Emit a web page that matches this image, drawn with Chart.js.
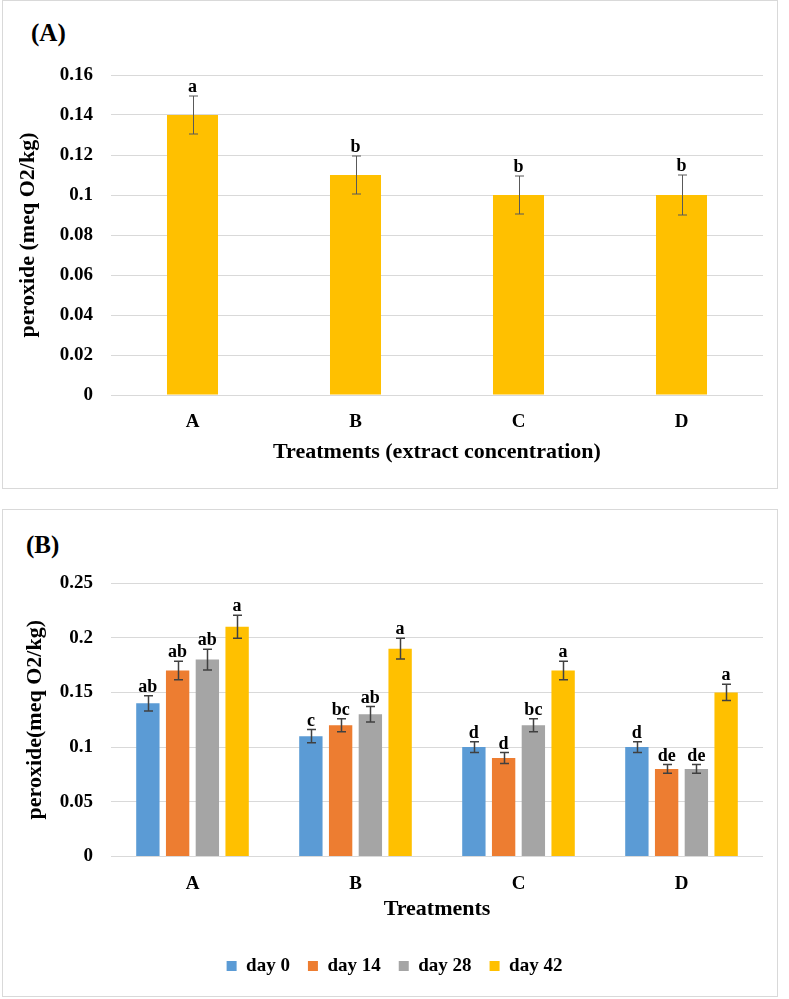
<!DOCTYPE html>
<html lang="en">
<head>
<meta charset="utf-8">
<title>Peroxide value</title>
<script src="https://cdn.jsdelivr.net/npm/chart.js@4"></script>
<style>
    html, body { margin: 0; padding: 0; background: #fff; }
    body { width: 789px; height: 999px; position: relative; overflow: hidden; font-family: "Liberation Serif", "Times New Roman", serif; }
    .panel { position: absolute; left: 2px; width: 776px; border: 1.5px solid #d9d9d9; box-sizing: border-box; }
    #panelA { top: 0; height: 489px; }
    #panelB { top: 509px; height: 488px; }
    .tag { position: absolute; font-weight: bold; font-size: 25px; line-height: 25px; color: #000; }
    canvas { position: absolute; left: 0; }
</style>
</head>
<body>
<div class="panel" id="panelA"></div>
<div class="panel" id="panelB"></div>
<div class="tag" style="left:31px; top:20px;">(A)</div>
<div class="tag" style="left:26px; top:532px;">(B)</div>
<canvas id="chartA" width="789" height="489" style="top:0"></canvas>
<canvas id="chartB" width="789" height="499" style="top:500px"></canvas>

<script>
    const categories = ['A', 'B', 'C', 'D'];

    // panel A - treatments
    const peroxideA = [0.14, 0.11, 0.10, 0.10];
    const errorA = [0.0095, 0.0095, 0.0095, 0.0100];
    const lettersA = ['a', 'b', 'b', 'b'];
    const ticksA = [0, 0.02, 0.04, 0.06, 0.08, 0.1, 0.12, 0.14, 0.16];

    // panel B - storage days
    const dayLabels = ['day 0', 'day 14', 'day 28', 'day 42'];
    const day0 = [0.14, 0.11, 0.10, 0.10];
    const day14 = [0.17, 0.12, 0.09, 0.08];
    const day28 = [0.18, 0.13, 0.12, 0.08];
    const day42 = [0.21, 0.19, 0.17, 0.15];
    const err0 = [0.007, 0.006, 0.005, 0.005];
    const err14 = [0.0085, 0.006, 0.005, 0.004];
    const err28 = [0.0095, 0.007, 0.006, 0.004];
    const err42 = [0.0105, 0.0095, 0.0085, 0.0075];
    const letters0 = ['ab', 'c', 'd', 'd'];
    const letters14 = ['ab', 'bc', 'd', 'de'];
    const letters28 = ['ab', 'ab', 'bc', 'de'];
    const letters42 = ['a', 'a', 'a', 'a'];
    const ticksB = [0, 0.05, 0.1, 0.15, 0.2, 0.25];

    const dayColors = ['#5B9BD5', '#ED7D31', '#A5A5A5', '#FFC000'];
    const serif = '"Liberation Serif", "Times New Roman", serif';

    Chart.defaults.font.family = serif;
    Chart.defaults.font.weight = 'bold';
    Chart.defaults.color = '#000';

    // error bars + significance letters, positioned through the y scale
    const errorBars = {
        id: 'errorBars',
        afterDatasetsDraw(chart, args, opts) {
            const { ctx } = chart;
            const y = chart.scales.y;
            chart.data.datasets.forEach((ds, i) => {
                const meta = chart.getDatasetMeta(i);
                meta.data.forEach((bar, j) => {
                    const v = ds.data[j], e = ds.errors[j];
                    const top = y.getPixelForValue(v + e);
                    const bot = y.getPixelForValue(v - e);
                    const x = Math.round(bar.x) + 0.5;
                    ctx.save();
                    ctx.strokeStyle = opts.color;
                    ctx.lineWidth = opts.width;
                    ctx.beginPath();
                    ctx.moveTo(x, top); ctx.lineTo(x, bot);
                    ctx.moveTo(x - opts.cap, top); ctx.lineTo(x + opts.cap, top);
                    ctx.moveTo(x - opts.cap, bot); ctx.lineTo(x + opts.cap, bot);
                    ctx.stroke();
                    ctx.fillStyle = '#000';
                    ctx.font = 'bold 18px ' + serif;
                    ctx.textAlign = 'center';
                    ctx.textBaseline = 'alphabetic';
                    ctx.fillText(ds.letters[j], bar.x, top - 4);
                    ctx.restore();
                });
            });
        }
    };

    function yAxis(ticks, max, title, width, titleOpts) {
        return {
            min: 0,
            max: max,
            afterBuildTicks: s => { s.ticks = ticks.map(v => ({ value: v })); },
            afterFit: s => { s.width = width; },
            grid: { color: '#d9d9d9', lineWidth: 1, drawTicks: false },
            border: { display: false },
            ticks: {
                padding: 18,
                font: { size: 19, weight: 'bold' },
                callback: v => String(parseFloat(v.toFixed(3)))
            },
            title: Object.assign({ display: true, text: title, font: { size: 22, weight: 'bold' } }, titleOpts)
        };
    }

    function xAxis(title, height, titlePad) {
        return {
            afterFit: s => { s.height = height; },
            grid: { display: false },
            border: { display: false },
            ticks: { padding: 8, font: { size: 19, weight: 'bold' } },
            title: { display: true, text: title, font: { size: 22, weight: 'bold' }, padding: { top: 0, bottom: titlePad } }
        };
    }

    new Chart(document.getElementById('chartA'), {
        type: 'bar',
        data: {
            labels: categories,
            datasets: [{
                label: 'peroxide',
                data: peroxideA,
                errors: errorA,
                letters: lettersA,
                backgroundColor: '#FFC000',
                categoryPercentage: 1,
                barPercentage: 0.313
            }]
        },
        options: {
            responsive: false,
            animation: false,
            layout: { padding: { top: 75, right: 26, left: 0, bottom: 0 } },
            plugins: {
                legend: { display: false },
                tooltip: { enabled: false },
                errorBars: { color: '#595959', width: 1, cap: 4.5 }
            },
            scales: {
                x: xAxis('Treatments (extract concentration)', 94, 23),
                y: yAxis(ticksA, 0.16, 'peroxide (meq O2/kg)', 111, { padding: { top: 15, bottom: 0 } })
            }
        },
        plugins: [errorBars]
    });

    const seriesB = [day0, day14, day28, day42];
    const errorsB = [err0, err14, err28, err42];
    const lettersB = [letters0, letters14, letters28, letters42];

    new Chart(document.getElementById('chartB'), {
        type: 'bar',
        data: {
            labels: categories,
            datasets: dayLabels.map((name, i) => ({
                label: name,
                data: seriesB[i],
                errors: errorsB[i],
                letters: lettersB[i],
                backgroundColor: dayColors[i],
                categoryPercentage: 0.73,
                barPercentage: 0.785
            }))
        },
        options: {
            responsive: false,
            animation: false,
            layout: { padding: { top: 83, right: 26, left: 26, bottom: 13.5 } },
            plugins: {
                legend: {
                    position: 'bottom',
                    labels: { boxWidth: 10, boxHeight: 10, padding: 18, font: { size: 19, weight: 'bold' }, color: '#000' }
                },
                tooltip: { enabled: false },
                errorBars: { color: '#404040', width: 1.5, cap: 4.5 }
            },
            scales: {
                x: xAxis('Treatments', 82, 16),
                y: yAxis(ticksB, 0.25, 'peroxide(meq O2/kg)', 85, { font: { size: 22, weight: 'bold', lineHeight: '14px' }, padding: { top: 2, bottom: 0 } })
            }
        },
        plugins: [errorBars]
    });
</script>
</body>
</html>
